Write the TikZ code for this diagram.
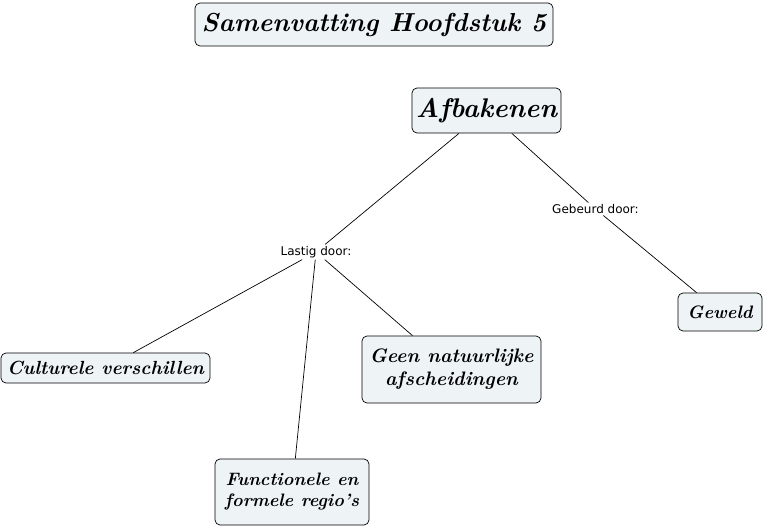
\documentclass[tikz,border=0pt]{standalone}
\usepackage{fontspec}
\usepackage{tikz}
\usetikzlibrary{positioning,shapes.geometric}
\newfontfamily\linkfont{DejaVu Sans}
\definecolor{boxfill}{RGB}{238,244,246}

\begin{document}
\begin{tikzpicture}[-, line width=0.7pt, node distance=1.2cm, on grid,
	concept/.style={rectangle, rounded corners=5pt, draw, fill=boxfill, align=center, inner sep=3pt, font=\bfseries\itshape\fontsize{18}{21}\selectfont},
	linkword/.style={inner sep=1.5pt, font=\linkfont\fontsize{12}{14}\selectfont}]
	\useasboundingbox (-486.5pt,-418.5pt) rectangle (278.5pt,110.5pt);
	\node[concept, minimum width=149pt, minimum height=45pt, font=\bfseries\itshape\fontsize{27}{30}\selectfont] (afb) at (0,0)	{Afbakenen};
	\node[concept, minimum width=358pt, minimum height=43pt, font=\bfseries\itshape\fontsize{26}{30}\selectfont] (title) [above left=86pt and 112.5pt of afb]	{Samenvatting Hoofdstuk 5};
	\node[linkword] (lastig) [below left=141.5pt and 170.5pt of afb]	{Lastig door:};
	\node[linkword] (gebeurd) [below right=98.5pt and 109pt of afb]	{Gebeurd door:};
	\node[concept, minimum width=84pt, minimum height=38pt] (geweld) [below right=103pt and 124.5pt of gebeurd]	{Geweld};
	\node[concept, minimum width=209pt, minimum height=30pt, font=\bfseries\itshape\fontsize{19}{22}\selectfont] (cult) [below left=116pt and 210.5pt of lastig]	{Culturele verschillen};
	\node[concept, minimum width=179pt, minimum height=67pt, font=\bfseries\itshape\fontsize{19.5}{23}\selectfont] (geen) [below right=117.5pt and 135.5pt of lastig]	{Geen natuurlijke\\afscheidingen};
	\node[concept, minimum width=154pt, minimum height=66pt] (func) [below left=240pt and 24pt of lastig]	{Functionele en\\formele regio's};

	\path 	(afb) edge (lastig)
	(afb) edge (gebeurd)
	(gebeurd) edge (geweld)
	(lastig) edge (cult)
	(lastig) edge (func)
	(lastig) edge (geen);
\end{tikzpicture}
\end{document}
